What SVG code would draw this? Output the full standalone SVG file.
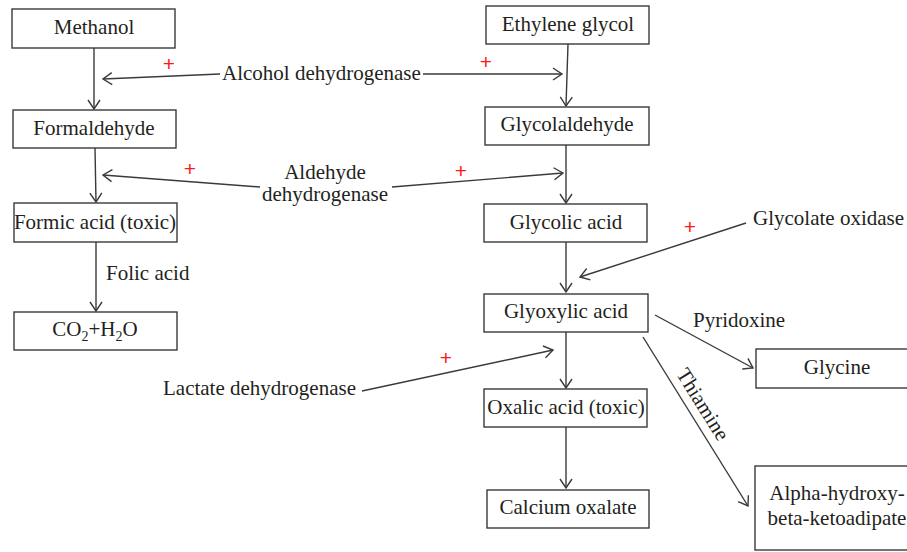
<svg xmlns="http://www.w3.org/2000/svg" width="907" height="552" viewBox="0 0 907 552">
<style>
  .box { fill: #ffffff; stroke: #3a3a3a; stroke-width: 1.4; }
  .t { font-family: "Liberation Serif", "Times New Roman", serif; font-size: 21px; fill: #231f20; }
  .c { text-anchor: middle; }
  .plus { font-family: "Liberation Sans", Arial, sans-serif; font-size: 21px; fill: #ff1a1a; text-anchor: middle; }
  .edge { fill: none; stroke: #3a3a3a; stroke-width: 1.4; marker-end: url(#arr); }
</style>
<defs>
  <marker id="arr" markerUnits="userSpaceOnUse" markerWidth="14" markerHeight="14" viewBox="-10 -7 12 14" refX="0" refY="0" orient="auto">
    <path d="M-9,-6 L0,0 L-9,6" fill="none" stroke="#3a3a3a" stroke-width="1.4"/>
  </marker>
</defs>
<rect width="907" height="552" fill="#ffffff"/>

<g id="connectors">
  <line class="edge" x1="94" y1="48" x2="94" y2="109"/>
  <line class="edge" x1="220" y1="74" x2="103" y2="79"/>
  <line class="edge" x1="423" y1="74" x2="562" y2="74"/>
  <line class="edge" x1="568" y1="44" x2="566" y2="106"/>
  <line class="edge" x1="95" y1="148" x2="96" y2="202"/>
  <line class="edge" x1="260" y1="187" x2="103" y2="175"/>
  <line class="edge" x1="392" y1="187" x2="563" y2="173"/>
  <line class="edge" x1="566" y1="145" x2="566" y2="203"/>
  <line class="edge" x1="96" y1="242" x2="96" y2="311"/>
  <line class="edge" x1="566" y1="242" x2="566" y2="292"/>
  <line class="edge" x1="746" y1="223" x2="580" y2="277"/>
  <line class="edge" x1="566" y1="332" x2="566" y2="388"/>
  <line class="edge" x1="362" y1="391" x2="553" y2="350"/>
  <line class="edge" x1="655" y1="315" x2="753" y2="368"/>
  <line class="edge" x1="643" y1="337" x2="748" y2="506"/>
  <line class="edge" x1="566" y1="427" x2="566" y2="488"/>
  <text class="plus" x="169" y="71">+</text>
  <text class="plus" x="486" y="69">+</text>
  <text class="plus" x="190" y="176">+</text>
  <text class="plus" x="461" y="178">+</text>
  <text class="plus" x="690" y="234">+</text>
  <text class="plus" x="446" y="365">+</text>
  <text class="t" x="222" y="80">Alcohol dehydrogenase</text>
  <text class="t c" x="325" y="179">Aldehyde</text>
  <text class="t c" x="325" y="201">dehydrogenase</text>
  <text class="t" x="106" y="280">Folic acid</text>
  <text class="t" x="753" y="225">Glycolate oxidase</text>
  <text class="t" x="693" y="327">Pyridoxine</text>
  <text class="t" x="163" y="395">Lactate dehydrogenase</text>
  <text class="t c" x="697" y="408" transform="rotate(58 697 408)">Thiamine</text>
</g>

<g id="methanol">
  <rect class="box" x="12" y="9" width="163" height="39"/>
  <text class="t c" x="94" y="34">Methanol</text>
</g>
<g id="formaldehyde">
  <rect class="box" x="13" y="110" width="163" height="38"/>
  <text class="t c" x="94" y="135">Formaldehyde</text>
</g>
<g id="formic-acid">
  <rect class="box" x="14" y="203" width="163" height="39"/>
  <text class="t c" x="95" y="229">Formic acid (toxic)</text>
</g>
<g id="co2-h2o">
  <rect class="box" x="14" y="312" width="163" height="38"/>
  <text class="t c" x="95" y="336">CO<tspan font-size="14" dy="5">2</tspan><tspan dy="-5">+H</tspan><tspan font-size="14" dy="5">2</tspan><tspan dy="-5">O</tspan></text>
</g>
<g id="ethylene-glycol">
  <rect class="box" x="486" y="6" width="163" height="38"/>
  <text class="t c" x="568" y="31">Ethylene glycol</text>
</g>
<g id="glycolaldehyde">
  <rect class="box" x="485" y="107" width="164" height="38"/>
  <text class="t c" x="567" y="131">Glycolaldehyde</text>
</g>
<g id="glycolic-acid">
  <rect class="box" x="484" y="204" width="163" height="38"/>
  <text class="t c" x="566" y="229">Glycolic acid</text>
</g>
<g id="glyoxylic-acid">
  <rect class="box" x="484" y="294" width="164" height="38"/>
  <text class="t c" x="566" y="318">Glyoxylic acid</text>
</g>
<g id="oxalic-acid">
  <rect class="box" x="484" y="389" width="163" height="38"/>
  <text class="t c" x="566" y="414">Oxalic acid (toxic)</text>
</g>
<g id="calcium-oxalate">
  <rect class="box" x="487" y="490" width="162" height="38"/>
  <text class="t c" x="568" y="514">Calcium oxalate</text>
</g>
<g id="glycine">
  <rect class="box" x="756" y="349" width="162" height="39"/>
  <text class="t c" x="837" y="374">Glycine</text>
</g>
<g id="alpha-hydroxy-beta-ketoadipate">
  <rect class="box" x="755" y="466" width="164" height="84"/>
  <text class="t c" x="837" y="500">Alpha-hydroxy-</text>
  <text class="t c" x="837" y="525">beta-ketoadipate</text>
</g>
</svg>
